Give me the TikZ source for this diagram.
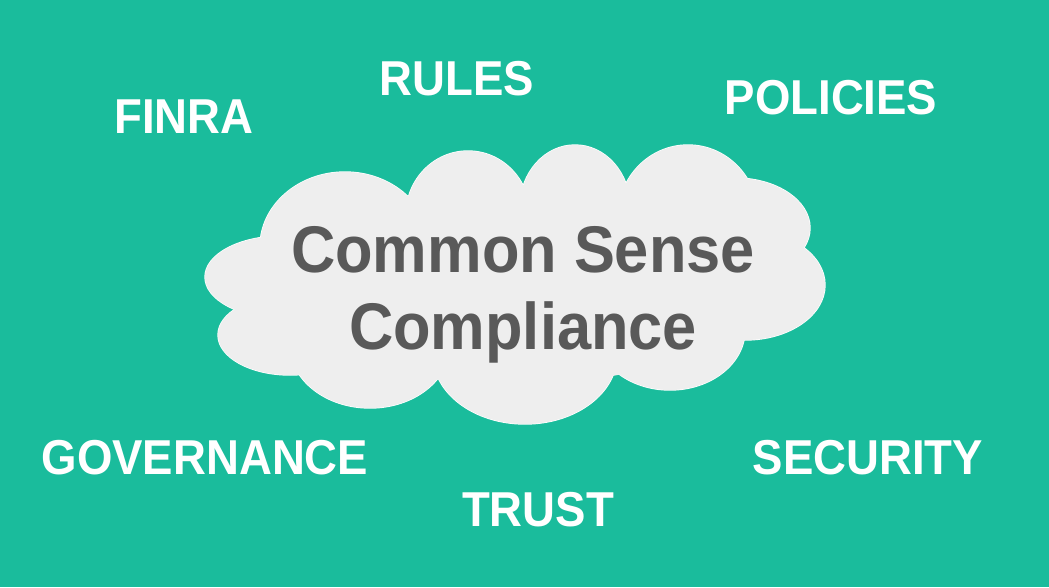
\documentclass[tikz,border=0pt]{standalone}
\usepackage{fontspec}
\setmainfont{Liberation Sans}[FakeStretch=0.93]
\definecolor{teal}{HTML}{1ABC9C}
\definecolor{cloudgray}{HTML}{EEEEEE}
\definecolor{inkgray}{HTML}{595959}
\begin{document}
\begin{tikzpicture}[x=1pt,y=-1pt,word/.style={font=\bfseries\fontsize{49}{56}\selectfont,text=white,inner sep=0pt,anchor=base},lobe/.style={white,line width=1.4pt},lobefill/.style={cloudgray},title/.style={font=\bfseries\fontsize{66}{77}\selectfont,text=inkgray,inner sep=0pt,anchor=base}]
\fill[teal] (0,0) rectangle (1049,587);
% cloud lobes: outline first, then fill over the inner parts
\def\lobes{345/247/85/75,468/215/62/64,575/207/55/62,688/217/70/72,735/228/75/50,745/285/80/55,670/330/75/60,525/355/92/69,370/345/80/63,290/335/72/40,282/277/77/41}
\foreach \cx/\cy/\rx/\ry in \lobes \draw[lobe] (\cx,\cy) ellipse[x radius=\rx,y radius=\ry];
\foreach \cx/\cy/\rx/\ry in \lobes \fill[lobefill] (\cx,\cy) ellipse[x radius=\rx,y radius=\ry];
\fill[lobefill] (515,285) ellipse[x radius=235,y radius=100];
\node[title] (common) at (523,272){Common Sense};\node[title] (compl) at (523,349){Compliance};
\node[word] (finra) at (184,133){FINRA};\node[word] (rules) at (457,95){RULES};\node[word] (policies) at (831,114){POLICIES};
\node[word] (gov) at (205,474){GOVERNANCE};\node[word] (sec) at (868,474){SECURITY};\node[word] (trust) at (538,526){TRUST};
\end{tikzpicture}
\end{document}
